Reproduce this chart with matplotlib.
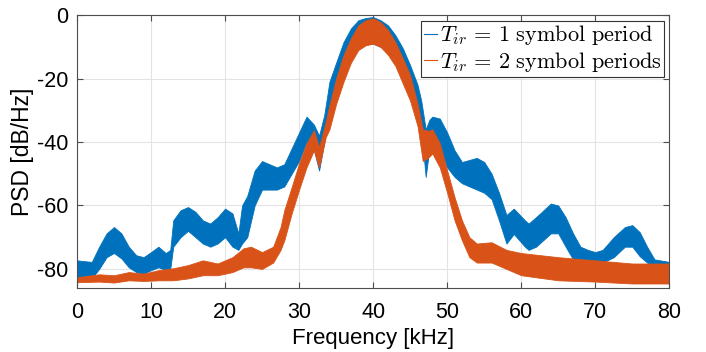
import numpy as np
import matplotlib.pyplot as plt
from matplotlib.lines import Line2D

plt.rcParams['font.family'] = ['Liberation Sans', 'DejaVu Sans']
plt.rcParams['mathtext.fontset'] = 'cm'
plt.rcParams['axes.unicode_minus'] = False

# T_ir = 1 symbol period (blue), band of the noisy PSD trace [dB/Hz]
f1 = [0, 2, 3, 4, 5, 6, 7, 8, 9, 10, 11, 12, 12.6, 13, 14, 15, 16, 17, 18, 19,
      20, 21, 21.8, 22.3, 23, 24, 25, 27, 28, 29, 30, 31, 32, 32.7, 33.4, 34.1, 35, 36, 37, 38,
      39, 40, 41, 42, 43, 44, 45, 46, 46.5, 47.1, 47.6, 48, 49, 50, 51, 52, 54, 55, 56, 57,
      58, 59, 60.5, 61, 62, 64, 65, 66, 67, 68, 69, 70, 71, 72.5, 74, 75, 76, 77, 78, 80]
up1 = [-77.3, -77.8, -73, -68.8, -66.8, -68.8, -73, -75.7, -76.3, -74.7,
       -73, -75, -74, -64.7, -61.5, -60.5, -62, -64.7, -65.7, -63.7,
       -61, -62.5, -68.8, -60, -57, -49, -46, -48, -47, -42,
       -37, -32, -34.5, -38, -31.5, -21, -15, -8.5, -4.2, -1.6,
       -0.9, -0.6, -1.6, -3.2, -6.3, -10.4, -15.8, -22, -27, -36,
       -33, -32, -32.6, -37, -42.6, -46.3, -45, -46.3, -50, -56,
       -63, -61, -64.7, -65.7, -63.7, -59.4, -60, -63.7, -68.8, -73,
       -74, -74.7, -74, -70, -66.8, -66.2, -68.4, -73, -77, -77.8]
lo1 = [-83, -83, -80, -76.3, -75, -76.7, -79.5, -81, -81.5, -80.4,
       -79.5, -80.4, -80, -73, -70, -68, -70, -72, -73, -72,
       -70, -73, -74, -72, -70, -60, -55, -55, -54, -50,
       -46, -40, -42.5, -49, -40, -30, -23, -16, -12, -10,
       -9, -9, -10, -11, -14, -18, -24, -30, -36, -51,
       -42, -41.6, -42.6, -48, -51, -53, -55, -56, -58, -64.7,
       -72, -69, -73, -74, -73, -68.8, -68.8, -73, -77, -77.8,
       -77.8, -78, -78, -76.3, -73, -73, -76, -78, -79.5, -79.5]

# T_ir = 2 symbol periods (orange)
f2 = [0, 3, 5, 7, 9, 11, 13, 15, 17, 19,
      21, 22.5, 23.5, 25, 26.5, 27.5, 28, 29, 30, 31,
      32, 32.7, 33.6, 34.1, 35, 36, 37, 38, 39, 40,
      41, 42, 43, 44, 45, 46, 46.7, 47.5, 48, 49,
      50, 51, 52, 53, 54, 56, 58, 60, 65, 70, 75, 80]
up2 = [-82.6, -81.7, -82, -81, -81.5, -80.4, -79.8, -78.8, -77.3, -78.3,
       -76.3, -73.5, -73, -74.7, -73, -66.8, -61.5, -54.2, -46.7, -40.4,
       -36.3, -41.6, -33.7, -28.4, -20, -12.6, -7.3, -3.2, -1.6, -1.0,
       -2.2, -4.7, -8.5, -13.6, -19, -28, -36, -36.5, -36, -40.4,
       -49, -57.4, -64.7, -70, -72, -71.6, -74, -75, -76.3, -77.3, -78.3, -78.3]
lo2 = [-84.2, -84, -84.3, -83.6, -83.8, -83.6, -83.6, -83, -82, -82,
       -81, -79.5, -79.5, -80, -78, -74, -71, -62.5, -55, -48,
       -42.6, -48, -38.5, -36, -28, -21, -15, -11, -9.5, -9,
       -10, -12.5, -16, -21.5, -27, -35, -46, -44.8, -43.6, -48,
       -56, -64.7, -71, -76.3, -78, -78, -80, -82, -83.6, -84, -84.6, -84.6]

blue = '#0072BD'
orange = '#D95319'

fig = plt.figure(figsize=(7.06, 3.52), dpi=100)
ax = fig.add_axes([0.109, 0.182, 0.839, 0.775])

ax.fill_between(f1, lo1, up1, color=blue, linewidth=0.6, edgecolor=blue)
ax.fill_between(f2, lo2, up2, color=orange, linewidth=0.6, edgecolor=orange)

ax.set_xlim(0, 80)
ax.set_ylim(-86, 0)
ax.set_xticks(np.arange(0, 81, 10))
ax.set_yticks([-80, -60, -40, -20, 0])
ax.grid(True, color='#e3e3e3', linewidth=0.8)
ax.set_axisbelow(True)
ax.tick_params(direction='in', top=True, right=True, labelsize=15.5, length=4,
               color='#4d4d4d')
ax.tick_params(axis='x', pad=10)
ax.tick_params(axis='y', pad=6)
for s in ax.spines.values():
    s.set_color('#4d4d4d')
    s.set_linewidth(0.8)

ax.set_xlabel('Frequency [kHz]', fontsize=16, labelpad=4)
ax.set_ylabel('PSD [dB/Hz]', fontsize=16.5, labelpad=2)

handles = [Line2D([], [], color=blue, linewidth=0.8),
           Line2D([], [], color=orange, linewidth=0.8)]
labels = [r'$T_{ir}\, =\, 1\ \mathrm{symbol\ period}$',
          r'$T_{ir}\, =\, 2\ \mathrm{symbol\ periods}$']
leg = ax.legend(handles, labels, loc='upper right', fontsize=16, handlelength=0.6,
                handletextpad=0.1, borderpad=0.12, labelspacing=0.12,
                fancybox=False, framealpha=1, edgecolor='#333333',
                borderaxespad=0.25)
leg.get_frame().set_linewidth(0.8)

fig.savefig('out.png', dpi=100)
